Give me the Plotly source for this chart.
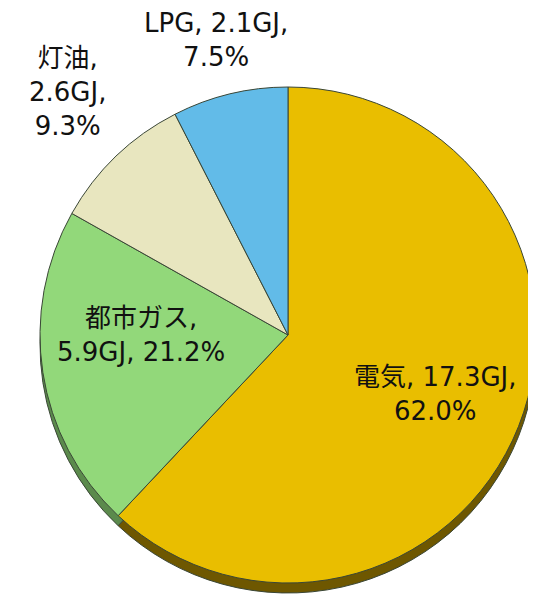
import plotly.graph_objects as go

# ---- data ----
labels = ["電気", "都市ガス", "灯油", "LPG"]
values_gj = [17.3, 5.9, 2.6, 2.1]
percents = [62.0, 21.2, 9.3, 7.5]

# ---- styles ----
face_colors = ["#E9BE00", "#92D87A", "#E8E6BF", "#62BBE8"]
side_colors = ["#6E5700", "#5B8A4C", "#8C8A6A", "#3A7496"]
edge_color = "#3A4636"

OFF = 8                      # default page body margin
W, H = 536 - OFF, 599 - OFF  # figure fits the window exactly
cx, cy, r = 288 - OFF, 335 - OFF, 248   # pixel centre / radius of pie face
depth = 10                   # 3-D side thickness in px


def dom(cx, cy, r):
    return dict(x=[max(0, (cx - r) / W), min(1, (cx + r) / W)],
                y=[max(0, 1 - (cy + r) / H), min(1, 1 - (cy - r) / H)])


fig = go.Figure()

# side (depth) of the pie
fig.add_trace(go.Pie(
    labels=labels, values=values_gj, sort=False, direction="clockwise",
    rotation=0, textinfo="none", hoverinfo="skip", showlegend=False,
    marker=dict(colors=side_colors, line=dict(color=edge_color, width=1)),
    domain=dom(cx, cy + depth, r),
))

# top face
fig.add_trace(go.Pie(
    labels=labels, values=values_gj, sort=False, direction="clockwise",
    rotation=0, textinfo="none", hoverinfo="label+value+percent",
    showlegend=False,
    marker=dict(colors=face_colors, line=dict(color=edge_color, width=1)),
    domain=dom(cx, cy, r),
))

# label texts built from data
texts = [
    f"{labels[0]}, {values_gj[0]}GJ,<br>{percents[0]:.1f}%",
    f"{labels[1]},<br>{values_gj[1]}GJ, {percents[1]:.1f}%",
    f"{labels[2]},<br>{values_gj[2]}GJ,<br>{percents[2]:.1f}%",
    f"{labels[3]}, {values_gj[3]}GJ,<br>{percents[3]:.1f}%",
]
label_pos = [(435, 394), (141, 335), (67, 92), (216, 40)]

for t, (px, py) in zip(texts, label_pos):
    fig.add_annotation(
        text=t, x=(px - OFF) / W, y=1 - (py - OFF) / H, xref="paper", yref="paper",
        showarrow=False, xanchor="center", yanchor="middle", align="center",
        font=dict(family="DejaVu Sans, Noto Sans CJK JP", size=26, color="#111111"),
    )

fig.update_layout(
    width=W, height=H,
    margin=dict(l=0, r=0, t=0, b=0),
    paper_bgcolor="white", plot_bgcolor="white",
)

fig.write_html("out.html")
